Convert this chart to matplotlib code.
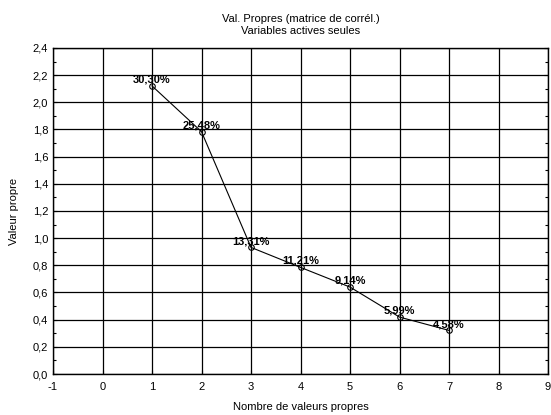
import matplotlib.pyplot as plt
from matplotlib.ticker import MultipleLocator, FuncFormatter

plt.rcParams['font.family'] = ['Liberation Sans', 'DejaVu Sans']

# eigenvalue number, eigenvalue, percent labels
rank = [1, 2, 3, 4, 5, 6, 7]
eigen = [2.121, 1.784, 0.932, 0.785, 0.640, 0.419, 0.321]
pct_labels = ['30,30%', '25,48%', '13,31%', '11,21%', '9,14%', '5,99%', '4,58%']

fig = plt.figure(figsize=(5.51, 4.15), dpi=100)
ax = fig.add_axes([53 / 551, 1 - 374 / 415, (548 - 53) / 551, (374 - 48) / 415])

ax.plot(rank, eigen, color='black', lw=0.8, marker='o', ms=4,
        mfc='none', mec='black', mew=0.8, zorder=3)
for x, y, lab in zip(rank, eigen, pct_labels):
    ax.annotate(lab, (x, y), xytext=(0, 1), textcoords='offset points',
                ha='center', va='bottom', fontsize=8, fontweight='bold', zorder=4)

ax.set_xlim(-1, 9)
ax.set_ylim(0, 2.4)
ax.xaxis.set_major_locator(MultipleLocator(1))
ax.yaxis.set_major_locator(MultipleLocator(0.2))
ax.yaxis.set_minor_locator(MultipleLocator(0.1))
ax.yaxis.set_major_formatter(FuncFormatter(lambda v, p: f'{v:.1f}'.replace('.', ',')))
ax.xaxis.set_major_formatter(FuncFormatter(lambda v, p: f'{int(round(v))}'))
ax.grid(True, color='black', lw=0.9)
ax.tick_params(direction='in', which='both', right=True, labelsize=8, length=3, width=0.8)
ax.tick_params(which='minor', length=2)
ax.tick_params(axis='x', pad=6)
for s in ax.spines.values():
    s.set_linewidth(1.0)

ax.set_xlabel('Nombre de valeurs propres', fontsize=8, labelpad=7)
ax.set_ylabel('Valeur propre', fontsize=8, labelpad=10)
fig.text(0.5 + 25 / 551, 1 - 25 / 415, 'Val. Propres (matrice de corrél.)\nVariables actives seules',
         ha='center', va='center', fontsize=8, linespacing=1.35)

fig.savefig('out.png', dpi=100)
